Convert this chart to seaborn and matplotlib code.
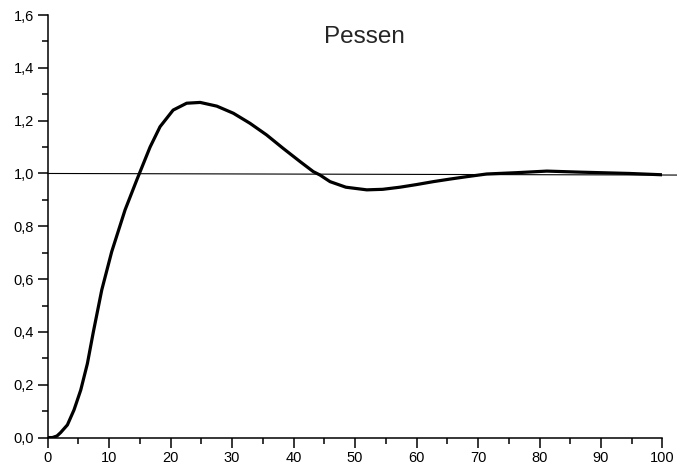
import matplotlib
matplotlib.use("Agg")
import matplotlib.pyplot as plt
from matplotlib.ticker import MultipleLocator, FuncFormatter
import pandas as pd
import seaborn as sns

# values
time_s = [0, 0.75, 1.5, 2.1, 3.2, 4.28, 5.37, 6.45, 7.42, 8.79, 10.41, 12.58,
          14.48, 16.65, 18.27, 20.4, 22.6, 24.8, 27.5, 30.2, 32.9, 35.6,
          38.3, 41.05, 43.2, 44.3, 45.93, 48.5, 51.9, 54.5, 57.3, 60.0, 62.7,
          65.5, 68.2, 71.4, 76.3, 81.2, 86.6, 94.7, 100]
response = [0, 0.0, 0.006, 0.019, 0.048, 0.105, 0.18, 0.28, 0.40, 0.559, 0.704,
            0.862, 0.975, 1.10, 1.177, 1.240, 1.266, 1.269, 1.255, 1.228,
            1.19, 1.146, 1.095, 1.045, 1.007, 0.994, 0.969, 0.948, 0.938, 0.940,
            0.948, 0.958, 0.969, 0.979, 0.988, 0.998, 1.003, 1.009, 1.005, 1.0,
            0.995]
ref_x = [0, 102.5]
ref_y = [1.0, 0.994]
title = "Pessen"

df = pd.DataFrame({"t": time_s, "y": response})

sns.set_style("ticks")
plt.rcParams["font.family"] = ["Liberation Sans", "DejaVu Sans"]
plt.rcParams["xtick.labelsize"] = 10.5
plt.rcParams["ytick.labelsize"] = 10.5

fig = plt.figure(figsize=(6.77, 4.69), dpi=100)
ax = fig.add_axes([0.0705, 0.067, 0.908, 0.901])

ax.plot(ref_x, ref_y, color="black", lw=0.8, clip_on=False)
sns.lineplot(data=df, x="t", y="y", color="black", lw=2.3, ax=ax)

ax.set_xlim(0, 100)
ax.set_ylim(0, 1.6)
ax.xaxis.set_major_locator(MultipleLocator(10))
ax.xaxis.set_minor_locator(MultipleLocator(5))
ax.yaxis.set_major_locator(MultipleLocator(0.2))
ax.yaxis.set_minor_locator(MultipleLocator(0.1))
ax.yaxis.set_major_formatter(FuncFormatter(lambda v, p: f"{v:.1f}".replace(".", ",")))
ax.tick_params(axis="both", which="major", length=7, width=1.1, labelsize=10.5,
               colors="black", pad=3)
ax.tick_params(axis="both", which="minor", length=4, width=1.1, colors="black")
ax.set_xlabel("")
ax.set_ylabel("")
sns.despine(ax=ax)
for s in ["left", "bottom"]:
    ax.spines[s].set_linewidth(1.1)
    ax.spines[s].set_color("black")

ax.text(51.5, 1.494, title, ha="center", va="baseline", fontsize=17.5)

fig.savefig("out.png", dpi=100)
